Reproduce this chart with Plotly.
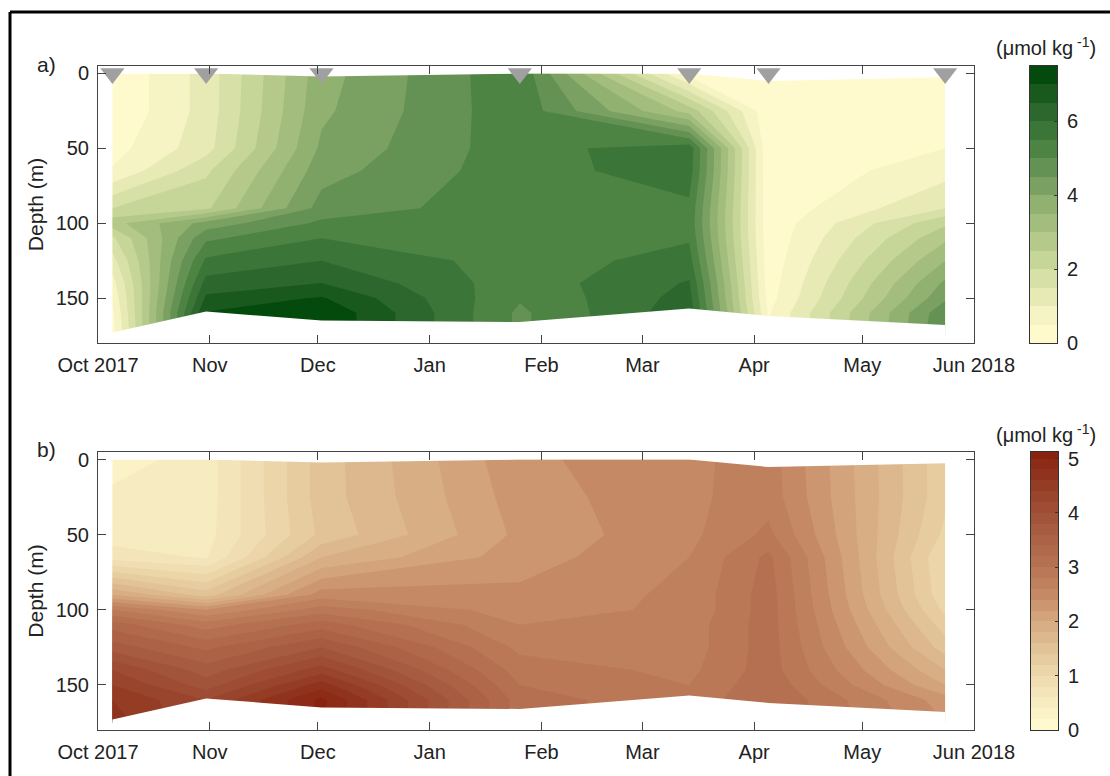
import plotly.graph_objects as go

# ---------------- data ----------------
station_dates = ["2017-10-05", "2017-10-31", "2017-12-02", "2018-01-26",
                 "2018-03-14", "2018-04-05", "2018-05-24"]
depth_levels = [0, 25, 50, 65, 90, 100, 110, 125, 140, 150, 160, 175]
top_depth = [0, 0, 2, 0, 0, 5, 2.5]
bottom_depth = [173, 159, 165, 166, 157, 162, 168]

# panel a (rows = depth_levels, columns = station_dates)
conc_a = [
    [0.05, 1.2, 3.8, 5.4, 0.3, 0.1, 0.2],
    [0.05, 1.2, 3.9, 5.35, 2.8, 0.1, 0.25],
    [0.3, 1.3, 4.1, 5.3, 5.8, 0.1, 0.5],
    [0.55, 1.9, 4.3, 5.3, 5.75, 0.1, 0.8],
    [2.0, 2.4, 4.7, 5.3, 5.4, 0.15, 1.5],
    [2.8, 4.2, 5.1, 5.3, 5.35, 0.15, 2.4],
    [1.9, 4.9, 5.5, 5.3, 5.45, 0.15, 2.9],
    [1.3, 5.6, 6.0, 5.25, 5.7, 0.2, 3.5],
    [0.8, 6.2, 6.5, 5.2, 6.05, 0.25, 4.1],
    [0.6, 6.6, 7.05, 5.05, 6.2, 0.3, 4.4],
    [0.4, 7.05, 7.45, 4.9, 6.35, 0.45, 4.9],
    [0.3, 7.05, 7.45, 4.9, 6.35, 0.45, 5.0],
]

# panel b
conc_b = [
    [0.3, 0.5, 1.5, 2.35, 2.55, 2.7, 1.25],
    [0.45, 0.5, 1.5, 2.3, 2.55, 2.72, 1.25],
    [0.5, 0.52, 1.45, 2.25, 2.55, 2.85, 1.15],
    [0.7, 0.58, 1.8, 2.3, 2.6, 3.05, 1.0],
    [2.0, 1.5, 2.5, 2.45, 2.65, 3.1, 1.05],
    [2.8, 2.4, 2.9, 2.5, 2.65, 3.1, 1.15],
    [3.3, 2.9, 3.3, 2.6, 2.7, 3.1, 1.3],
    [3.7, 3.35, 3.8, 2.75, 2.7, 3.1, 1.5],
    [4.2, 3.7, 4.3, 2.9, 2.75, 3.1, 1.8],
    [4.4, 3.9, 4.7, 3.0, 2.8, 3.15, 2.0],
    [4.6, 4.2, 5.05, 3.1, 2.85, 3.2, 2.3],
    [4.7, 4.2, 5.05, 3.1, 2.85, 3.2, 2.4],
]

month_ticks = ["2017-10-01", "2017-11-01", "2017-12-01", "2018-01-01", "2018-02-01",
               "2018-03-01", "2018-04-01", "2018-05-01", "2018-06-01"]
month_labels = ["Oct 2017", "Nov", "Dec", "Jan", "Feb", "Mar", "Apr", "May", "Jun 2018"]
depth_ticks = [0, 50, 100, 150]
depth_range = [180, -5]

# contour levels / colour bars
levels_a = dict(start=0.0, end=7.5, size=0.5)
levels_b = dict(start=0.0, end=5.2, size=0.2)
cbar_a_max = 7.5
cbar_b_max = 5.12
cbar_a_ticks = [0, 2, 4, 6]
cbar_b_ticks = [0, 1, 2, 3, 4, 5]

# colour anchors (value, rgb)
green_anchors = [
    (0.25, (255, 250, 206)), (0.75, (246, 243, 196)), (1.25, (232, 234, 182)),
    (1.75, (215, 224, 166)), (2.25, (198, 213, 152)), (2.75, (180, 201, 138)),
    (3.25, (162, 189, 125)), (3.75, (145, 177, 113)), (4.25, (122, 160, 98)),
    (4.75, (100, 146, 84)), (5.25, (77, 131, 67)), (5.75, (60, 117, 56)),
    (6.25, (44, 103, 45)), (6.75, (26, 89, 30)), (7.25, (4, 74, 12)),
]
brown_anchors = [
    (0.1, (255, 249, 208)), (1.0, (238, 218, 174)), (2.0, (214, 170, 128)),
    (2.6, (194, 132, 96)), (3.0, (183, 116, 84)), (4.0, (160, 80, 55)),
    (5.1, (135, 35, 15)),
]

W, H = 1110, 776
FONT = "Liberation Sans, Arial, sans-serif"


def px(x):
    return x / W


def py(y):
    return 1 - y / H


def color_domain(lv):
    # plotly maps a filled-contour colorscale onto [start - size/2, start + (n - 0.5) * size]
    n = int((lv["end"] + lv["size"] * 1e-6 - lv["start"]) // lv["size"]) + 1
    return lv["start"] - lv["size"] / 2, lv["start"] + (n - 0.5) * lv["size"]


def make_scale(anchors, lv):
    lo, hi = color_domain(lv)
    scale = [[0.0, "rgb(%d,%d,%d)" % anchors[0][1]]]
    for v, c in anchors:
        scale.append([(v - lo) / (hi - lo), "rgb(%d,%d,%d)" % c])
    scale.append([1.0, "rgb(%d,%d,%d)" % anchors[-1][1]])
    return scale, lo, hi


green_scale, ga_lo, ga_hi = make_scale(green_anchors, levels_a)
brown_scale, bb_lo, bb_hi = make_scale(brown_anchors, levels_b)


def bar_edges(lv, top):
    edges = []
    v = lv["start"]
    while v < top - 1e-9:
        edges.append(round(v, 6))
        v += lv["size"]
    edges.append(top)
    mids = [[edges[i] + lv["size"] / 2] for i in range(len(edges) - 1)]
    return edges, mids


xdom = [px(98), px(974)]
ya_dom = [py(343), py(66)]
yb_dom = [py(730), py(452)]
cba_xdom = [px(1030), px(1057)]
cbb_xdom = [px(1031), px(1058)]

fig = go.Figure()

# panel contours
for z, lv, scale, xa, ya in ((conc_a, levels_a, green_scale, "x", "y"),
                             (conc_b, levels_b, brown_scale, "x2", "y2")):
    fig.add_trace(go.Contour(
        x=station_dates, y=depth_levels, z=z,
        colorscale=scale, autocontour=False, showscale=False,
        contours=dict(start=lv["start"], end=lv["end"], size=lv["size"],
                      coloring="fill", showlines=False),
        line=dict(width=0, smoothing=0),
        xaxis=xa, yaxis=ya, hoverinfo="skip",
    ))

# white masks outside the sampled water column
for xa, ya in (("x", "y"), ("x2", "y2")):
    fig.add_trace(go.Scatter(
        x=station_dates + station_dates[::-1],
        y=top_depth + [depth_range[1]] * len(station_dates),
        fill="toself", fillcolor="white", line=dict(width=0, color="white"),
        mode="lines", xaxis=xa, yaxis=ya, hoverinfo="skip", showlegend=False))
    fig.add_trace(go.Scatter(
        x=station_dates + station_dates[::-1],
        y=bottom_depth + [depth_range[0]] * len(station_dates),
        fill="toself", fillcolor="white", line=dict(width=0, color="white"),
        mode="lines", xaxis=xa, yaxis=ya, hoverinfo="skip", showlegend=False))

# sampling markers
fig.add_trace(go.Scatter(
    x=station_dates, y=[0] * len(station_dates), mode="markers",
    marker=dict(symbol="triangle-down", size=21, color="#a0a0a0", line=dict(width=0)),
    cliponaxis=False, xaxis="x", yaxis="y", hoverinfo="skip", showlegend=False))

# colour bars drawn as discrete heatmaps
ea, ma = bar_edges(levels_a, cbar_a_max)
eb, mb = bar_edges(levels_b, cbar_b_max)
fig.add_trace(go.Heatmap(x=[0, 1], y=ea, z=ma, colorscale=green_scale, zmin=ga_lo, zmax=ga_hi,
                         showscale=False, xaxis="x3", yaxis="y3", hoverinfo="skip"))
fig.add_trace(go.Heatmap(x=[0, 1], y=eb, z=mb, colorscale=brown_scale, zmin=bb_lo, zmax=bb_hi,
                         showscale=False, xaxis="x4", yaxis="y4", hoverinfo="skip"))

tfont = dict(size=20, family=FONT, color="#222")
axis_common = dict(showline=True, linecolor="#444", linewidth=1, mirror="ticks",
                   ticks="inside", ticklen=8, tickcolor="#444", showgrid=False, zeroline=False,
                   tickfont=tfont)

xax = dict(axis_common, domain=xdom, range=[month_ticks[0], month_ticks[-1]], type="date",
           tickvals=month_ticks, ticktext=month_labels, ticklabelstandoff=4)
yax = dict(axis_common, range=depth_range, tickvals=depth_ticks, ticklabelstandoff=4,
           title=dict(text="Depth (m)", font=dict(size=21, family=FONT, color="#222"), standoff=6))

cb_x = dict(showline=True, linecolor="#333", linewidth=1, mirror=True, ticks="",
            showticklabels=False, showgrid=False, zeroline=False, range=[0, 1], fixedrange=True)
cb_y = dict(showline=True, linecolor="#333", linewidth=1, mirror=True, side="right",
            ticks="inside", ticklen=3, tickcolor="#333", showgrid=False, zeroline=False,
            tickfont=tfont, ticklabelstandoff=5)

fig.update_layout(
    width=W, height=H, margin=dict(l=0, r=0, t=0, b=0, autoexpand=False),
    paper_bgcolor="white", plot_bgcolor="white", showlegend=False,
    xaxis=dict(xax, anchor="y"),
    yaxis=dict(yax, domain=ya_dom, anchor="x"),
    xaxis2=dict(xax, anchor="y2"),
    yaxis2=dict(yax, domain=yb_dom, anchor="x2"),
    xaxis3=dict(cb_x, domain=cba_xdom, anchor="y3"),
    yaxis3=dict(cb_y, domain=ya_dom, anchor="x3", range=[0, cbar_a_max], tickvals=cbar_a_ticks),
    xaxis4=dict(cb_x, domain=cbb_xdom, anchor="y4"),
    yaxis4=dict(cb_y, domain=yb_dom, anchor="x4", range=[0, cbar_b_max], tickvals=cbar_b_ticks),
    font=dict(family=FONT, color="#222"),
)

ann_font = dict(size=21, family=FONT, color="#222")
for label, yy in (("a)", 64), ("b)", 449)):
    fig.add_annotation(x=px(46), y=py(yy), xref="paper", yref="paper", text=label,
                       xanchor="center", yanchor="middle", showarrow=False, font=ann_font)
unit = "(\u03bcmol kg<sup> -1</sup>)"
for yy in (46, 433):
    fig.add_annotation(x=px(1046), y=py(yy), xref="paper", yref="paper", text=unit,
                       xanchor="center", yanchor="middle", showarrow=False,
                       font=dict(size=20, family=FONT, color="#222"))

# outer frame (left and top edges)
fig.add_shape(type="line", xref="paper", yref="paper", x0=px(10), y0=py(12), x1=1, y1=py(12),
              line=dict(color="black", width=3))
fig.add_shape(type="line", xref="paper", yref="paper", x0=px(10), y0=py(12), x1=px(10), y1=0,
              line=dict(color="black", width=3))

fig.write_html("out.html")
